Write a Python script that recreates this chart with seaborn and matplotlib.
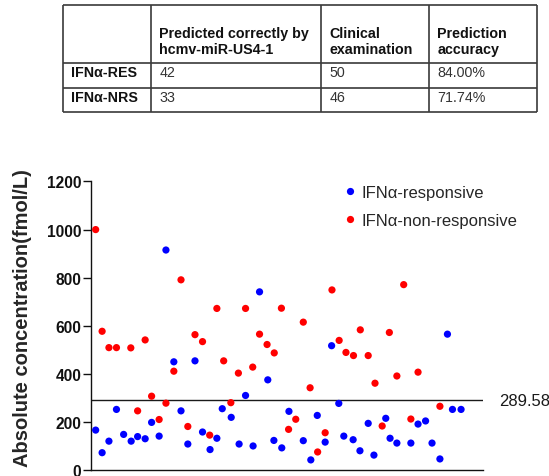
import numpy as np
import pandas as pd
import matplotlib
matplotlib.use("Agg")
import matplotlib.pyplot as plt
import seaborn as sns

# ---------------- data ----------------
table_header = ["", "Predicted correctly by\nhcmv-miR-US4-1", "Clinical\nexamination", "Prediction\naccuracy"]
table_rows = ["IFN\u03b1-RES", "IFN\u03b1-NRS"]
predicted_correct = [42, 33]
clinical_exam = [50, 46]
pred_accuracy = ["84.00%", "71.74%"]

resp_label = "IFN\u03b1-responsive"
nonresp_label = "IFN\u03b1-non-responsive"

resp_x = [1.0, 1.9, 2.85, 3.9, 4.9, 5.95, 6.85, 7.9, 8.8, 9.85, 10.8, 11.9, 12.9, 13.85,
          14.85, 15.9, 16.95, 17.9, 18.65, 19.9, 21.0, 21.9, 22.95, 23.85, 25.0, 25.85,
          26.95, 27.95, 29.95, 31.0, 31.9, 33.0, 33.9, 34.9, 35.6, 36.9, 37.85, 39.0,
          39.8, 41.45, 42.05, 43.0, 44.95, 45.95, 47.0, 47.9, 49.0, 50.05, 50.75, 51.95]
resp_y = [166, 72, 120, 252, 148, 120, 139, 130, 198, 141, 915, 450, 246, 108,
          454, 158, 85, 132, 255, 219, 108, 310, 100, 741, 375, 123,
          92, 244, 122, 42, 227, 116, 517, 277, 141, 126, 80, 194,
          62, 215, 132, 112, 112, 191, 204, 112, 46, 565, 252, 252]

nonresp_x = [1.0, 1.9, 2.85, 3.9, 5.9, 6.85, 7.9, 8.8, 9.85, 10.8, 11.9, 12.9, 13.85,
             14.85, 15.9, 16.9, 17.9, 18.85, 19.85, 20.9, 21.9, 22.9, 23.85, 24.9, 25.9,
             26.9, 27.9, 28.9, 29.95, 30.9, 31.95, 33.0, 33.95, 34.95, 35.9, 36.95, 37.9,
             39.0, 39.95, 40.95, 41.95, 43.0, 43.95, 44.95, 45.95, 49.0]
nonresp_y = [1000, 577, 509, 509, 508, 246, 541, 307, 210, 278, 411, 791, 181,
             563, 534, 145, 672, 454, 280, 403, 672, 428, 565, 522, 487,
             673, 169, 211, 615, 342, 75, 155, 749, 539, 489, 476, 583,
             476, 361, 183, 572, 391, 771, 212, 407, 265]

cutoff = 289.58
yticks = [0, 200, 400, 600, 800, 1000, 1200]

# ---------------- style ----------------
sns.set_style("ticks")
plt.rcParams["font.family"] = ["Liberation Sans", "DejaVu Sans"]

W, H = 549, 477
fig = plt.figure(figsize=(W / 100, H / 100), dpi=100)

# ---------------- table ----------------
tx0, tx1, ty0, ty1 = 62.7, 537.3, 6.0, 113.3
tab = fig.add_axes([tx0 / W, 1 - ty1 / H, (tx1 - tx0) / W, (ty1 - ty0) / H])
tw, th = tx1 - tx0, ty1 - ty0
tab.set_xlim(0, tw)
tab.set_ylim(th, 0)
tab.axis("off")
col_edges = [0, 88.3, 258.3, 366.3, tw]
row_edges = [0, 58.3, 83.0, th]
line_c = "#3a3a3a"
for cx in col_edges:
    tab.plot([cx, cx], [0, th], color=line_c, lw=1.2, solid_capstyle="butt", clip_on=False)
for ry in row_edges:
    tab.plot([0, tw], [ry, ry], color=line_c, lw=1.2, solid_capstyle="butt", clip_on=False)

fs_tab = 10.3
pad = 8.2
for j, txt in enumerate(table_header):
    if txt:
        tab.text(col_edges[j] + pad, 36.0, txt, fontsize=fs_tab, fontweight="bold",
                 ha="left", va="center", linespacing=1.2, color="#111111")
row_centers = [67.3, 92.3]
for i, rname in enumerate(table_rows):
    yc = row_centers[i]
    tab.text(col_edges[0] + pad, yc, rname, fontsize=fs_tab, fontweight="bold",
             ha="left", va="center", color="#111111")
    vals = [str(predicted_correct[i]), str(clinical_exam[i]), pred_accuracy[i]]
    for j, v in enumerate(vals):
        tab.text(col_edges[j + 1] + pad, yc, v, fontsize=fs_tab, ha="left",
                 va="center", color="#333333")

# ---------------- scatter ----------------
ax_l, ax_r, ax_b, ax_t = 91.0, 483.3, 471.0, 182.5
ax = fig.add_axes([ax_l / W, 1 - ax_b / H, (ax_r - ax_l) / W, (ax_b - ax_t) / H])

df = pd.concat([
    pd.DataFrame({"x": resp_x, "y": resp_y, "group": resp_label}),
    pd.DataFrame({"x": nonresp_x, "y": nonresp_y, "group": nonresp_label}),
], ignore_index=True)

palette = {resp_label: "#0000ff", nonresp_label: "#ff0000"}
sns.scatterplot(data=df, x="x", y="y", hue="group", palette=palette, s=27,
                linewidth=0, ax=ax, legend=True, zorder=3)

ax.axhline(cutoff, color="#1a1a1a", lw=1.0, zorder=2)
ax.text(1.041, cutoff, f"{cutoff:.2f}", transform=ax.get_yaxis_transform(),
        fontsize=12, ha="left", va="center", color="#1a1a1a", clip_on=False)

ax.set_xlim(0.35, 55.05)
ax.set_ylim(0, 1200)
ax.set_yticks(yticks)
ax.set_xticks([])
ax.set_xlabel("")
ax.set_ylabel("Absolute concentration(fmol/L)", fontsize=14.5, fontweight="bold")
ax.yaxis.set_label_coords(-0.15, 0.53)
for lab in ax.get_yticklabels():
    lab.set_fontweight("bold")
ax.tick_params(axis="y", labelsize=11.2, length=5.8, width=1.0, pad=1.2, colors="#111111")
sns.despine(ax=ax)
for sp in ["left", "bottom"]:
    ax.spines[sp].set_linewidth(1.0)
    ax.spines[sp].set_color("#111111")

handles, labels = ax.get_legend_handles_labels()
leg = ax.legend(handles, labels, loc="upper left", frameon=False, fontsize=12,
                bbox_to_anchor=((335 - ax_l) / (ax_r - ax_l), 1.012),
                handletextpad=0.2, handlelength=1.0, labelspacing=0.78,
                markerscale=1.0, borderaxespad=0)

fig.savefig("out.png", dpi=100)
